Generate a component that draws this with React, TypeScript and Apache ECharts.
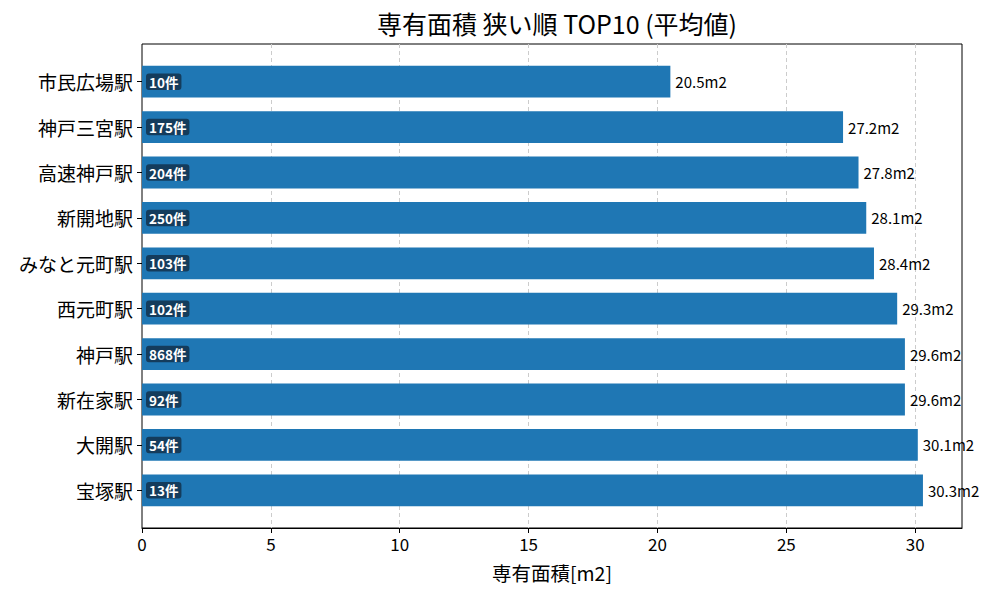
import { useEffect, useRef } from 'react';
import * as echarts from 'echarts';

const stations = ['市民広場駅', '神戸三宮駅', '高速神戸駅', '新開地駅', 'みなと元町駅', '西元町駅', '神戸駅', '新在家駅', '大開駅', '宝塚駅'];
const areas = [20.5, 27.2, 27.8, 28.1, 28.4, 29.3, 29.6, 29.6, 30.1, 30.3];
const counts = [10, 175, 204, 250, 103, 102, 868, 92, 54, 13];
const xMax = 31.815;

const FONT = '"Noto Sans CJK JP", "Noto Sans", sans-serif';

export default function App() {
  const chartRef = useRef<HTMLDivElement>(null);

  useEffect(() => {
    if (!chartRef.current) return;
    const chart = echarts.init(chartRef.current, undefined, { renderer: 'svg' });

    chart.setOption({
      animation: false,
      textStyle: { fontFamily: FONT },
      title: {
        text: '専有面積 狭い順 TOP10 (平均値)',
        left: 552,
        top: 5,
        textAlign: 'center',
        textStyle: { fontFamily: FONT, fontSize: 25, fontWeight: 'normal', color: '#000' },
      },
      grid: [
        // frame + x axis
        { left: 142, right: 38, top: 44, bottom: 72, show: true, borderColor: '#000', borderWidth: 1, backgroundColor: 'transparent' },
        // bars
        { left: 142, right: 38, top: 59, bottom: 87 },
      ],
      xAxis: [
        {
          gridIndex: 0,
          type: 'value',
          min: 0,
          max: xMax,
          interval: 5,
          name: '専有面積[m2]',
          nameLocation: 'middle',
          nameGap: 35,
          nameTextStyle: { fontFamily: FONT, fontSize: 19.5, color: '#000' },
          axisLine: { show: true, lineStyle: { color: '#000' } },
          axisTick: { show: true, length: 5, lineStyle: { color: '#000' } },
          axisLabel: { fontFamily: FONT, fontSize: 17, color: '#000', margin: 7, showMaxLabel: false },
          splitLine: { show: true, showMaxLine: false, showMinLine: false, lineStyle: { color: '#cccccc', type: [4, 3], width: 1 } },
        },
        {
          gridIndex: 1,
          type: 'value',
          min: 0,
          max: xMax,
          show: false,
          splitLine: { show: false },
        },
      ],
      yAxis: [
        {
          gridIndex: 0,
          type: 'value',
          show: false,
          splitLine: { show: false },
        },
        {
          gridIndex: 1,
          type: 'category',
          data: stations,
          inverse: true,
          axisLine: { show: false },
          axisTick: { show: true, alignWithLabel: true, length: 5, lineStyle: { color: '#000' } },
          axisLabel: { fontFamily: FONT, fontSize: 19, color: '#000', margin: 9 },
          splitLine: { show: false },
        },
      ],
      series: [
        {
          type: 'bar',
          xAxisIndex: 1,
          yAxisIndex: 1,
          data: areas,
          barWidth: '70%',
          itemStyle: { color: '#1f77b4' },
          label: {
            show: true,
            position: 'right',
            distance: 5,
            formatter: (p: any) => `${Number(p.value).toFixed(1)}m2`,
            fontFamily: FONT,
            fontSize: 15,
            color: '#000',
          },
        },
        {
          type: 'bar',
          xAxisIndex: 1,
          yAxisIndex: 1,
          data: areas,
          barWidth: '70%',
          barGap: '-100%',
          silent: true,
          itemStyle: { color: 'transparent' },
          label: {
            show: true,
            position: 'insideLeft',
            distance: 4,
            formatter: (p: any) => `${counts[p.dataIndex]}件`,
            fontFamily: FONT,
            fontSize: 13.5,
            fontWeight: 'bold',
            color: '#fff',
            backgroundColor: '#143c5c',
            borderRadius: 3,
            padding: [2, 3, 1, 3],
          },
        },
      ],
    });

    return () => {
      chart.dispose();
    };
  }, []);

  return <div ref={chartRef} style={{ width: 1000, height: 600, margin: -8 }} />;
}
